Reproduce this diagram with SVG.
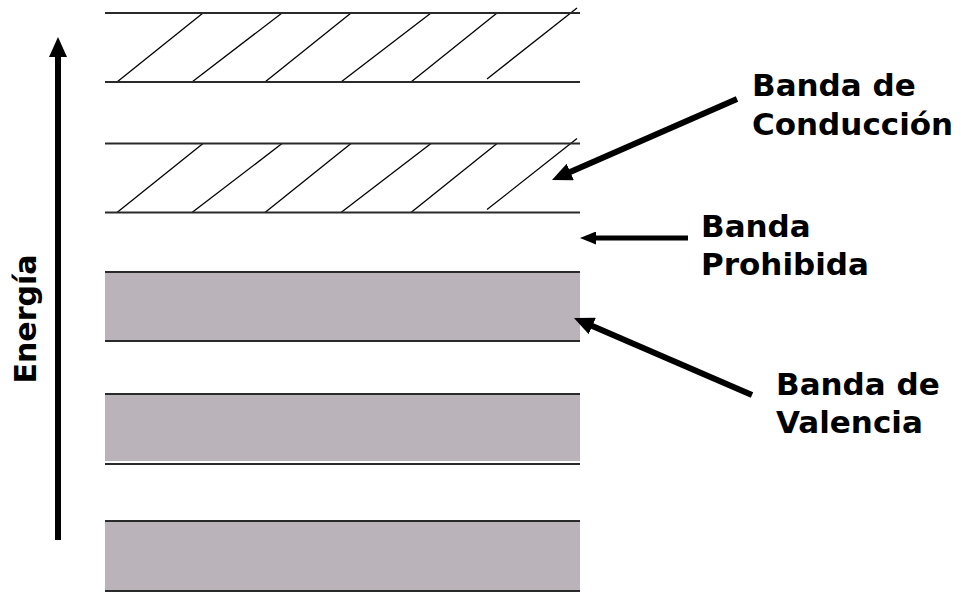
<svg xmlns="http://www.w3.org/2000/svg" xmlns:xlink="http://www.w3.org/1999/xlink" width="961" height="594" viewBox="0 0 961 594">
<style>
.edge{stroke:#2a2a2a;stroke-width:2;fill:none}
.hatch{stroke:#000;stroke-width:1.3;fill:none}
.fill{fill:#bab4ba;stroke:none}
.arrow{stroke:#000;stroke-width:6;fill:none}
.lbl{font-family:"DejaVu Sans",Verdana,sans-serif;font-weight:bold;font-size:31px;fill:#000}
.axis{font-family:"DejaVu Sans",Verdana,sans-serif;font-weight:bold;font-size:30px;fill:#000}
</style>
<defs>
<marker id="head" markerUnits="userSpaceOnUse" viewBox="0 0 20 18" markerWidth="20" markerHeight="18" refX="12" refY="9" orient="auto">
<path d="M0,0 L20,9 L0,18 z" fill="#000"/>
</marker>
<marker id="headS" markerUnits="userSpaceOnUse" viewBox="0 0 16 13" markerWidth="16" markerHeight="13" refX="9" refY="6.5" orient="auto">
<path d="M0,0 L16,6.5 L0,13 z" fill="#000"/>
</marker>
<g id="hatchset">
<line x1="117" y1="82" x2="203" y2="13"/>
<line x1="192" y1="82" x2="282" y2="13"/>
<line x1="265" y1="82" x2="351" y2="13"/>
<line x1="341" y1="82" x2="431" y2="13"/>
<line x1="411" y1="82" x2="497" y2="13"/>
<line x1="487" y1="79" x2="577" y2="8"/>
</g>
</defs>
<rect width="961" height="594" fill="#fff"/>

<g id="band-conduccion-1">
<use xlink:href="#hatchset" class="hatch"/>
<line class="edge" x1="105" y1="13" x2="580" y2="13"/>
<line class="edge" x1="105" y1="82" x2="580" y2="82"/>
</g>
<g id="band-conduccion-2">
<use xlink:href="#hatchset" class="hatch" transform="translate(0,130.6)"/>
<line class="edge" x1="105" y1="143.5" x2="580" y2="143.5"/>
<line class="edge" x1="105" y1="212.5" x2="580" y2="212.5"/>
</g>
<g id="band-valencia-1">
<rect class="fill" x="105" y="272" width="475" height="69"/>
<line class="edge" x1="105" y1="272" x2="580" y2="272"/>
<line class="edge" x1="105" y1="341" x2="580" y2="341"/>
</g>
<g id="band-valencia-2">
<rect class="fill" x="105" y="394" width="475" height="67"/>
<line class="edge" x1="105" y1="394" x2="580" y2="394"/>
<line class="edge" x1="105" y1="464" x2="580" y2="464"/>
</g>
<g id="band-valencia-3">
<rect class="fill" x="105" y="521" width="475" height="70"/>
<line class="edge" x1="105" y1="521" x2="580" y2="521"/>
<line class="edge" x1="105" y1="591" x2="580" y2="591"/>
</g>

<g id="label-conduccion">
<text class="lbl" x="752" y="96">Banda de</text>
<text class="lbl" x="752" y="135">Conducción</text>
</g>
<g id="label-prohibida">
<text class="lbl" x="701" y="237">Banda</text>
<text class="lbl" x="701" y="275">Prohibida</text>
</g>
<g id="label-valencia">
<text class="lbl" x="776" y="395">Banda de</text>
<text class="lbl" x="776" y="433">Valencia</text>
</g>
<g id="label-energia">
<text class="axis" transform="translate(36,319) rotate(-90)" text-anchor="middle">Energía</text>
</g>

<g id="connectors">
<line class="arrow" x1="58" y1="540" x2="58" y2="45" marker-end="url(#head)"/>
<line class="arrow" x1="737" y1="99" x2="559.3" y2="176.8" marker-end="url(#head)"/>
<line class="arrow" x1="688" y1="238" x2="587" y2="238" style="stroke-width:5" marker-end="url(#headS)"/>
<line class="arrow" x1="752" y1="395" x2="581.3" y2="321.2" marker-end="url(#head)"/>
</g>
</svg>
